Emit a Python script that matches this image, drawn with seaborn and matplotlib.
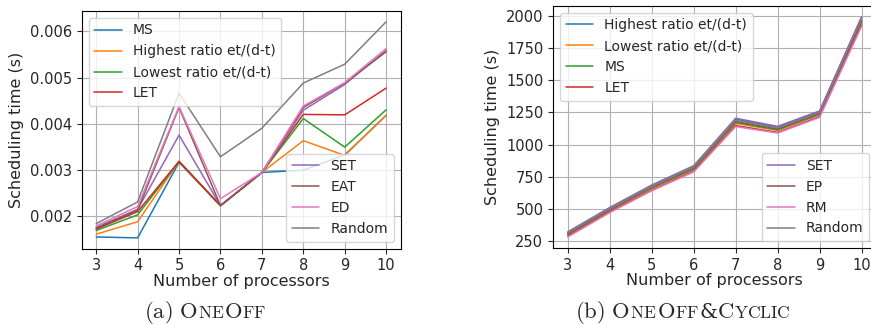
import numpy as np
import pandas as pd
import matplotlib
matplotlib.use("Agg")
import matplotlib.pyplot as plt
import seaborn as sns

processors = [3, 4, 5, 6, 7, 8, 9, 10]

# (a) OneOff
oneoff_names = ["MS", "Highest ratio et/(d-t)", "Lowest ratio et/(d-t)", "LET",
                "SET", "EAT", "ED", "Random"]
oneoff_ms = [0.00154, 0.00152, 0.00316, 0.00222, 0.00294, 0.00299, 0.00332, 0.00418]
oneoff_highest = [0.00160, 0.00187, 0.00318, 0.00222, 0.00294, 0.00363, 0.00331, 0.00418]
oneoff_lowest = [0.00168, 0.00202, 0.00318, 0.00222, 0.00294, 0.00411, 0.00349, 0.00430]
oneoff_let = [0.00171, 0.00209, 0.00318, 0.00222, 0.00294, 0.00420, 0.00419, 0.00477]
oneoff_set = [0.00175, 0.00214, 0.00375, 0.00222, 0.00294, 0.00429, 0.00485, 0.00559]
oneoff_eat = [0.00173, 0.00212, 0.00435, 0.00222, 0.00294, 0.00435, 0.00488, 0.00556]
oneoff_ed = [0.00178, 0.00220, 0.00437, 0.00237, 0.00294, 0.00438, 0.00489, 0.00563]
oneoff_random = [0.00183, 0.00230, 0.00466, 0.00328, 0.00390, 0.00488, 0.00529, 0.00621]

# (b) OneOff&Cyclic
cyclic_names = ["Highest ratio et/(d-t)", "Lowest ratio et/(d-t)", "MS", "LET",
                "SET", "EP", "RM", "Random"]
cyclic_highest = [316, 505, 680, 830, 1198, 1136, 1256, 1990]
cyclic_lowest = [295, 485, 658, 805, 1165, 1110, 1232, 1950]
cyclic_ms = [300, 490, 663, 810, 1172, 1115, 1238, 1957]
cyclic_let = [285, 475, 645, 792, 1148, 1095, 1218, 1930]
cyclic_set = [320, 510, 685, 835, 1205, 1142, 1262, 1995]
cyclic_ep = [305, 495, 668, 818, 1180, 1122, 1243, 1965]
cyclic_rm = [280, 470, 640, 787, 1140, 1090, 1212, 1922]
cyclic_random = [312, 500, 675, 825, 1190, 1130, 1250, 1980]


def to_long(names, series):
    rows = []
    for name, vals in zip(names, series):
        for p, v in zip(processors, vals):
            rows.append({"processors": p, "time": v, "heuristic": name})
    return pd.DataFrame(rows)


def plot_panel(ax, df, names):
    palette = sns.color_palette("tab10", len(names))
    sns.lineplot(data=df, x="processors", y="time", hue="heuristic",
                 hue_order=names, palette=palette, ax=ax, legend=False,
                 linewidth=1.1)
    ax.set_xticks(processors)
    ax.set_xlabel("Number of processors", fontsize=11.5, labelpad=0.5)
    ax.set_ylabel("Scheduling time (s)", fontsize=11.5)
    ax.tick_params(labelsize=10.5)
    ax.grid(True, color="#b0b0b0", linewidth=0.8)
    for s in ax.spines.values():
        s.set_color("black")
        s.set_linewidth(0.8)
    handles = ax.get_lines()[:len(names)]
    leg1 = ax.legend(handles[:4], names[:4], loc="upper left", fontsize=10)
    ax.add_artist(leg1)
    ax.legend(handles[4:], names[4:], loc="lower right", fontsize=10)


def small_caps(fig, x_center, y, pieces):
    # small caps made of pieces of two sizes, chained on one baseline
    texts = []
    for s, size in pieces:
        if s.startswith("$"):
            t = fig.text(0, y, s, fontsize=size, math_fontfamily="cm",
                         va="baseline", ha="left")
        else:
            t = fig.text(0, y, s, fontsize=size, family="DejaVu Serif",
                         va="baseline", ha="left")
        texts.append(t)
    renderer = fig.canvas.get_renderer()
    widths = [t.get_window_extent(renderer).width / fig.bbox.width for t in texts]
    x = x_center - sum(widths) / 2
    for t, w in zip(texts, widths):
        t.set_x(x)
        x += w


sns.set_style("ticks")
plt.rcParams["font.family"] = ["DejaVu Sans"]

fig = plt.figure(figsize=(8.71, 3.25), dpi=100)
ax_a = fig.add_axes([0.0938, 0.2348, 0.3662, 0.7314])
ax_b = fig.add_axes([0.635, 0.237, 0.371, 0.745])

plot_panel(ax_a, to_long(oneoff_names, [oneoff_ms, oneoff_highest, oneoff_lowest, oneoff_let,
                                        oneoff_set, oneoff_eat, oneoff_ed, oneoff_random]),
           oneoff_names)
plot_panel(ax_b, to_long(cyclic_names, [cyclic_highest, cyclic_lowest, cyclic_ms, cyclic_let,
                                        cyclic_set, cyclic_ep, cyclic_rm, cyclic_random]),
           cyclic_names)
ax_b.set_yticks([250, 500, 750, 1000, 1250, 1500, 1750, 2000])

big, small = 16.3, 12.5
small_caps(fig, 0.2354, 0.022, [(r"$\mathrm{(a)\ O}$", big), (r"$\mathrm{NE}$", small),
                                (r"$\mathrm{O}$", big), (r"$\mathrm{FF}$", small)])
small_caps(fig, 0.784, 0.022, [(r"$\mathrm{(b)\ O}$", big), (r"$\mathrm{NE}$", small),
                               (r"$\mathrm{O}$", big), (r"$\mathrm{FF}$", small),
                               ("&", 14.5), (r"$\mathrm{C}$", big), (r"$\mathrm{YCLIC}$", small)])

fig.savefig("out.png", dpi=100)
